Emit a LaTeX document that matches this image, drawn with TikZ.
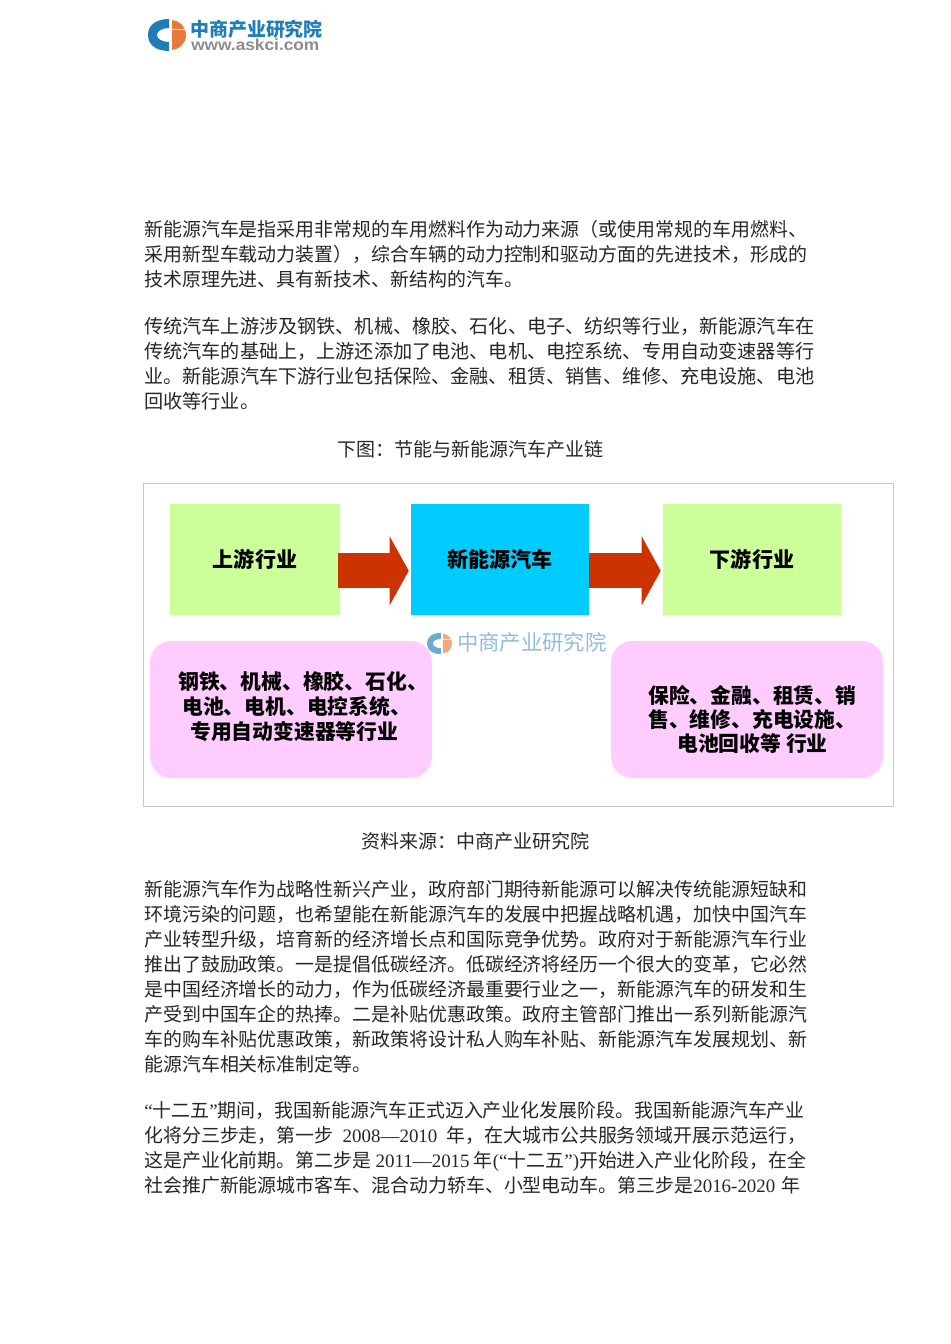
\documentclass[tikz,border=0pt]{standalone}
\usepackage{fontspec}
\setmainfont{Noto Sans CJK SC}
\newfontfamily\latfont{Liberation Serif}
\newfontfamily\urlfont[FakeStretch=1.08]{Liberation Sans}
\usetikzlibrary{arrows.meta}
\newcommand{\lat}[1]{{\latfont #1}}
\definecolor{boxgreen}{HTML}{CCFF99}
\definecolor{boxblue}{HTML}{00CCFF}
\definecolor{boxpink}{HTML}{FFCCFF}
\definecolor{arrowred}{HTML}{CC3300}
\definecolor{logoblue}{HTML}{1F7DB8}
\definecolor{logoorange}{HTML}{E8793A}
\tikzset{
    bodyline/.style={anchor=west,inner sep=0pt,text height=12.5pt,text depth=1.7pt,text=black!85},
    caption/.style={inner sep=0pt,font=\fontsize{14.25pt}{14.25pt}\selectfont,text=black!85},
    chainbox/.style={inner sep=0pt,minimum height=83.25pt,font=\fontsize{15.8pt}{15.8pt}\selectfont\bfseries},
    listbox/.style={fill=boxpink,rounded corners=16pt,inner sep=0pt,minimum height=102.75pt},
    listtext/.style={anchor=west,inner sep=0pt,align=left,font=\fontsize{15.6pt}{18.6pt}\selectfont\bfseries},
    chainarrow/.style={arrowred,line width=26.25pt,-{Triangle[length=14.25pt,width=51pt]}}
}
\newcommand{\logomark}[4]{%
\begin{scope}[shift={(#1,#2)},scale=#3,opacity=#4]
    \fill[logoblue] (2,-16) .. controls (-12,-16) and (-19,-9) .. (-19,0) .. controls (-19,9) and (-12,16) .. (2,16)
        -- (2,7) .. controls (-5,7) and (-10,4) .. (-10,0) .. controls (-10,-4) and (-5,-7) .. (2,-7) -- cycle;
    \fill[logoorange] (5,-15) .. controls (13,-14) and (19,-8) .. (19,0) .. controls (19,8) and (13,14) .. (5,15) -- cycle;
    \draw[white,line width=.6pt] (5,-6) -- (19,-6);
\end{scope}}
\begin{document}
\begin{tikzpicture}[x=0.75pt,y=-0.75pt]
\useasboundingbox (0,0) rectangle (950,1344);
% header logo
\logomark{167}{35}{1}{1}
\node[inner sep=0pt,anchor=west,text=logoblue,font=\fontsize{14.2pt}{14.2pt}\selectfont\bfseries] (logoname) at (190,29) {中商产业研究院};
\node[inner sep=0pt,anchor=west,text=black!45,font=\urlfont\fontsize{12pt}{12pt}\selectfont\bfseries] (logourl) at (191,44.5) {www.askci.com};
% body text, one node per printed line
\foreach \ypos/\xend/\txt [count=\i] in {
    229/806/{新能源汽车是指采用非常规的车用燃料作为动力来源（或使用常规的车用燃料、},
    254/806/{采用新型车载动力装置），综合车辆的动力控制和驱动方面的先进技术，形成的},
    279/806/{技术原理先进、具有新技术、新结构的汽车。\hfill},
    326/814/{传统汽车上游涉及钢铁、机械、橡胶、石化、电子、纺织等行业，新能源汽车在},
    351/814/{传统汽车的基础上，上游还添加了电池、电机、电控系统、专用自动变速器等行},
    376/814/{业。新能源汽车下游行业包括保险、金融、租赁、销售、维修、充电设施、电池},
    401/814/{回收等行业。\hfill},
    889/806/{新能源汽车作为战略性新兴产业，政府部门期待新能源可以解决传统能源短缺和},
    914/806/{环境污染的问题，也希望能在新能源汽车的发展中把握战略机遇，加快中国汽车},
    939/806/{产业转型升级，培育新的经济增长点和国际竞争优势。政府对于新能源汽车行业},
    964/806/{推出了鼓励政策。一是提倡低碳经济。低碳经济将经历一个很大的变革，它必然},
    989/806/{是中国经济增长的动力，作为低碳经济最重要行业之一，新能源汽车的研发和生},
    1014/806/{产受到中国车企的热捧。二是补贴优惠政策。政府主管部门推出一系列新能源汽},
    1039/806/{车的购车补贴优惠政策，新政策将设计私人购车补贴、新能源汽车发展规划、新},
    1064/806/{能源汽车相关标准制定等。\hfill},
    1110/806/{\lat{“}十二五\lat{”}期间，我国新能源汽车正式迈入产业化发展阶段。我国新能源汽车产业},
    1135/806/{化将分三步走，第一步 \lat{2008—2010} 年，在大城市公共服务领域开展示范运行，},
    1160/806/{这是产业化前期。第二步是 \lat{2011—2015} 年\lat{(“}十二五\lat{”)}开始进入产业化阶段，在全},
    1185/806/{社会推广新能源城市客车、混合动力轿车、小型电动车。第三步是\lat{2016-2020} 年}
}{
    \pgfmathsetlengthmacro{\linewd}{(\xend-144)*0.75pt}
    \pgfmathsetmacro{\linesize}{\xend==814 ? 14.36 : 14.2}
    \node[bodyline,font=\fontsize{\linesize pt}{\linesize pt}\selectfont] (line\i) at (144,\ypos) {\hbox to \linewd{\txt}};
}
\node[caption] (figtitle) at (470,449) {下图：节能与新能源汽车产业链};
\node[caption] (figsource) at (475,841) {资料来源：中商产业研究院};
% figure
\draw[black!22,line width=.75pt] (143.5,483.5) rectangle (893.5,806);
\node[chainbox,fill=boxgreen,minimum width=127.5pt] (upstream) at (255,559.5) {\raisebox{-.7pt}{上游行业}};
\node[chainbox,fill=boxblue,minimum width=133.5pt] (newcar) at (500,559.5) {\raisebox{-.7pt}{新能源汽车}};
\node[chainbox,fill=boxgreen,minimum width=133.5pt] (downstream) at (752,559.5) {\raisebox{-.7pt}{下游行业}};
\draw[chainarrow] ([xshift=-1.5pt,yshift=-8.5pt]upstream.east) -- ([xshift=-1.5pt,yshift=-8.5pt]newcar.west);
\draw[chainarrow] ([yshift=-8.5pt]newcar.east) -- ([xshift=-1.5pt,yshift=-8.5pt]downstream.west);
\node[listbox,minimum width=211.5pt] (uplist) at (291,709.5) {};
\node[listbox,minimum width=204pt] (downlist) at (747,709.5) {};
\node[listtext] (uptext) at (178,706.5)
    {钢铁、机械、橡胶、石化、\\\hspace*{3pt}电池、电机、电控系统、\\\hspace*{9pt}专用自动变速器等行业};
\node[listtext,font=\fontsize{15.6pt}{18pt}\selectfont\bfseries] (downtext) at (648,719)
    {保险、金融、租赁、销\\售、维修、充电设施、\\\hspace*{21.75pt}电池回收等 行业};
% watermark
\logomark{439.5}{643.5}{.66}{.65}
\node[inner sep=0pt,anchor=west,text=logoblue!50,font=\fontsize{16pt}{16pt}\selectfont] (markname) at (457,642.5) {中商产业研究院};
\end{tikzpicture}
\end{document}
